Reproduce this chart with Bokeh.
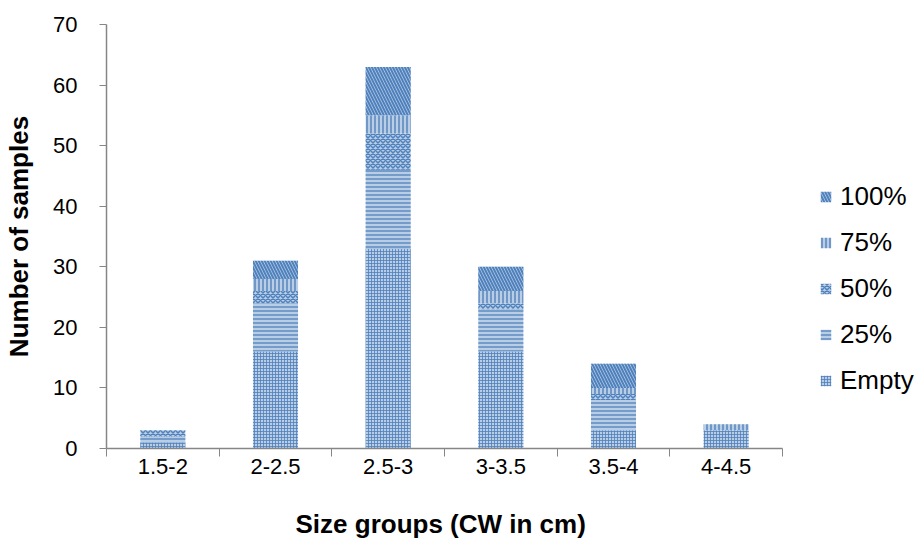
import numpy as np
from bokeh.plotting import figure
from bokeh.models import ColumnDataSource, Range1d, FixedTicker, Legend, LegendItem, Title
from bokeh.embed import file_html
from bokeh.resources import INLINE

categories = ["1.5-2", "2-2.5", "2.5-3", "3-3.5", "3.5-4", "4-4.5"]
empty = [1, 16, 33, 16, 3, 3]
pct25 = [1, 8, 13, 7, 5, 0]
pct50 = [1, 2, 6, 1, 1, 0]
pct75 = [0, 2, 3, 2, 1, 1]
pct100 = [0, 3, 8, 4, 4, 0]
series_names = ["Empty", "25%", "50%", "75%", "100%"]
y_ticks = [0, 10, 20, 30, 40, 50, 60, 70]

series = [empty, pct25, pct50, pct75, pct100]
n = len(categories)
xs = [i + 0.5 for i in range(n)]
boundaries = list(range(n + 1))

FONT = "Liberation Sans"
AXIS_GRAY = "#868686"
HATCH = "#4f81bd"
FILL = "#b9cde5"

W, H = 922, 557
LEFT, TOP, BOTTOM = 106, 24, 109
AXIS_RIGHT = 782  # where the category axis ends, in pixels
frame_w = W - LEFT
x_end = n * frame_w / (AXIS_RIGHT - LEFT)

p = figure(width=W, height=H, output_backend="svg", toolbar_location=None,
           x_range=Range1d(0, x_end), y_range=Range1d(0, 70),
           min_border_left=LEFT, min_border_top=TOP, min_border_bottom=BOTTOM,
           min_border_right=0)
p.outline_line_color = None
p.xgrid.visible = False
p.ygrid.visible = False

styles = [
    dict(hatch_pattern="cross", hatch_scale=3, hatch_weight=0.9, hatch_alpha=0.9),
    dict(hatch_pattern="horizontal_line", hatch_scale=4, hatch_weight=1.3),
    dict(hatch_pattern="diagonal_cross", hatch_scale=5, hatch_weight=1.5),
    dict(hatch_pattern="vertical_line", hatch_scale=4, hatch_weight=1.4),
    dict(hatch_pattern="left_diagonal_line", hatch_scale=6, hatch_weight=2.0),
]

bottom = np.zeros(n)
renderers = []
for vals, st in zip(series, styles):
    vals = np.array(vals, dtype=float)
    src = ColumnDataSource(dict(x=xs, bottom=bottom.copy(), top=bottom + vals))
    r = p.vbar(x="x", bottom="bottom", top="top", width=0.4, source=src,
               fill_color=FILL, line_color=None, hatch_color=HATCH, **st)
    renderers.append(r)
    bottom = bottom + vals

# axes
xa = p.xaxis[0]
xa.bounds = (0, n)
xa.ticker = FixedTicker(ticks=xs, minor_ticks=boundaries)
xa.major_label_overrides = {x: c for x, c in zip(xs, categories)}
xa.major_tick_out = 0
xa.major_tick_in = 0
xa.minor_tick_out = 8
xa.minor_tick_in = 0
xa.minor_tick_line_color = AXIS_GRAY
xa.axis_line_color = AXIS_GRAY
xa.axis_line_width = 1.5
xa.major_label_text_font = FONT
xa.major_label_text_font_size = "22px"
xa.major_label_text_color = "#000000"
xa.major_label_standoff = 2

x_title = Title(text="Size groups (CW in cm)", align="left", offset=189,
                vertical_align="top",
                padding=dict(left=0, right=0, top=27, bottom=0),
                text_font=FONT, text_font_size="26px",
                text_font_style="bold", text_color="#000000")
p.add_layout(x_title, "below")

ya = p.yaxis[0]
ya.ticker = FixedTicker(ticks=y_ticks)
ya.major_tick_out = 7
ya.major_tick_in = 0
ya.minor_tick_out = 0
ya.minor_tick_in = 0
ya.major_tick_line_color = AXIS_GRAY
ya.axis_line_color = AXIS_GRAY
ya.axis_line_width = 1.5
ya.major_label_text_font = FONT
ya.major_label_text_font_size = "22px"
ya.major_label_text_color = "#000000"
ya.major_label_standoff = 22
ya.axis_label = "Number of samples"
ya.axis_label_text_font = FONT
ya.axis_label_text_font_style = "bold"
ya.axis_label_text_font_size = "26px"
ya.axis_label_text_color = "#000000"
ya.axis_label_standoff = 16

items = [LegendItem(label=s, renderers=[r]) for s, r in zip(series_names, renderers)]
items = items[::-1]
legend = Legend(items=items, location=(713, 52), orientation="vertical",
                label_text_font=FONT, label_text_font_size="26px",
                label_text_color="#000000", glyph_width=13, glyph_height=13,
                label_height=30, spacing=15, padding=0, margin=0,
                border_line_color=None, background_fill_alpha=0,
                label_standoff=8)
p.add_layout(legend, "center")

open("out.html", "w").write(file_html(p, INLINE))
